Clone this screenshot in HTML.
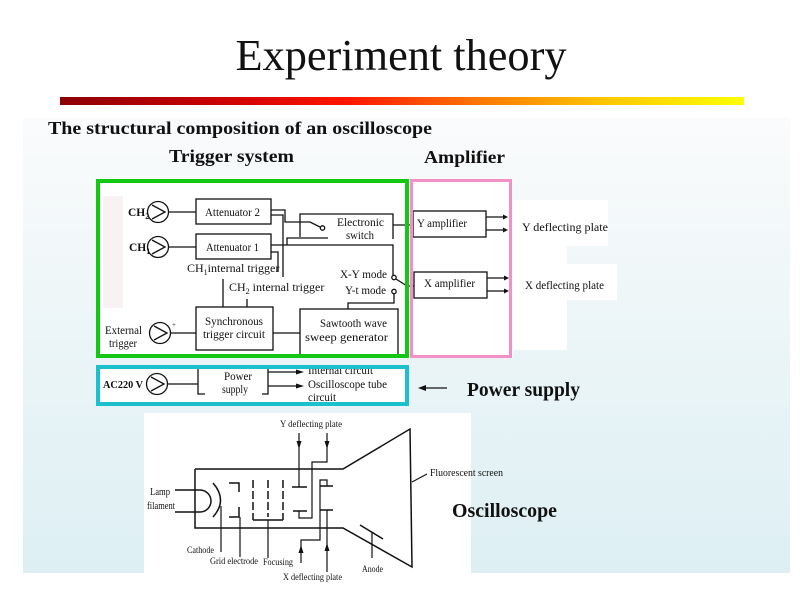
<!DOCTYPE html>
<html><head><meta charset="utf-8"><style>
html,body{margin:0;padding:0;background:#fff;}
svg{display:block;}
text{font-family:"Liberation Serif","Times New Roman",serif;fill:#111;}
.b{font-weight:bold;}
</style></head><body>
<svg width="800" height="600" viewBox="0 0 800 600" xmlns="http://www.w3.org/2000/svg">
<defs>
<linearGradient id="bar" x1="0" y1="0" x2="1" y2="0">
<stop offset="0" stop-color="#8c0000"/>
<stop offset="0.22" stop-color="#c80000"/>
<stop offset="0.42" stop-color="#ff1500"/>
<stop offset="0.62" stop-color="#ff7a00"/>
<stop offset="0.8" stop-color="#ffc800"/>
<stop offset="1" stop-color="#ffff00"/>
</linearGradient>
<linearGradient id="bg" x1="0" y1="0" x2="0" y2="1">
<stop offset="0" stop-color="#fafbfc"/>
<stop offset="0.5" stop-color="#ebf5f7"/>
<stop offset="1" stop-color="#ddeff3"/>
</linearGradient>
</defs>
<rect x="0" y="0" width="800" height="600" fill="#fff"/>
<rect x="23" y="118" width="767" height="455" fill="url(#bg)"/>

<!-- title -->
<text x="401" y="70" font-size="44" text-anchor="middle" textLength="331" lengthAdjust="spacingAndGlyphs">Experiment theory</text>
<rect x="60" y="97" width="684" height="8" fill="url(#bar)"/>

<text class="b" x="48" y="134" font-size="18" textLength="384" lengthAdjust="spacingAndGlyphs">The structural composition of an oscilloscope</text>
<text class="b" x="169" y="162" font-size="18" textLength="125" lengthAdjust="spacingAndGlyphs">Trigger system</text>
<text class="b" x="424" y="163" font-size="18" textLength="81" lengthAdjust="spacingAndGlyphs">Amplifier</text>

<!-- white patches -->
<rect x="96" y="179" width="417" height="179" fill="#fff"/>
<rect x="513" y="203" width="54" height="147" fill="#fff"/>
<rect x="513" y="200" width="95" height="46" fill="#fff"/>
<rect x="513" y="264" width="104" height="36" fill="#fff"/>
<rect x="96" y="365" width="313" height="41" fill="#fff"/>
<rect x="144" y="413" width="327" height="187" fill="#fff"/>
<rect x="103" y="196" width="20" height="112" fill="#f5ecec" opacity="0.7"/>

<g stroke="#111" stroke-width="1.3" fill="none">
<!-- input circles -->
<circle cx="158" cy="212" r="10.5"/><polyline points="152,205 165,212 152,219"/>
<circle cx="158" cy="247" r="10.5"/><polyline points="152,240 165,247 152,254"/>
<circle cx="160" cy="333" r="10.5"/><polyline points="154,326 167,333 154,340"/>
<line x1="169" y1="212" x2="196" y2="212"/>
<line x1="169" y1="247" x2="196" y2="247"/>
<line x1="171" y1="333" x2="196" y2="333"/>
<!-- attenuators -->
<rect x="196" y="199" width="75" height="25"/>
<rect x="196" y="234" width="75" height="25"/>
<!-- att2 outputs -->
<polyline points="271,210 285,210 285,222 310,222 320,227"/>
<polyline points="271,215 283,215 283,277"/>
<polyline points="271,252 278,252 278,272"/>
<line x1="223" y1="279" x2="223" y2="307"/>
<line x1="247" y1="299" x2="247" y2="307"/>
<!-- att1 outputs -->
<polyline points="271,245 393,245 393,275"/>
<polyline points="287,245 287,238 328,238"/>
<!-- electronic switch -->
<polyline points="300,237 300,214 393,214 393,239"/>
<circle cx="322.5" cy="228" r="2.2"/>
<line x1="393" y1="225" x2="413" y2="225"/>
<!-- mode switch -->
<circle cx="394" cy="277.5" r="2.2"/>
<circle cx="394" cy="291.5" r="2.2"/>
<polyline points="396,279 407,286 414,286"/>
<polyline points="348,309 348,303 394,303 394,294"/>
<!-- sync / sawtooth -->
<rect x="196" y="307" width="77" height="43"/>
<rect x="300" y="309" width="98" height="46"/>
<line x1="273" y1="333" x2="300" y2="333"/>
<!-- amplifiers -->
<rect x="413" y="211" width="73" height="26"/>
<rect x="414" y="272" width="73" height="26"/>
<line x1="486" y1="217" x2="503" y2="217"/>
<line x1="486" y1="230" x2="503" y2="230"/>
<line x1="487" y1="278" x2="504" y2="278"/>
<line x1="487" y1="291" x2="504" y2="291"/>
<!-- power row -->
<circle cx="157" cy="384" r="10.5"/><polyline points="151,377 164,384 151,391"/>
<line x1="168" y1="384" x2="198" y2="384"/>
<polyline points="205,368 198,368 198,394 205,394"/>
<polyline points="262,368 268,368 268,394 262,394"/>
<line x1="268" y1="372" x2="297" y2="372"/>
<line x1="268" y1="386" x2="297" y2="386"/>
<line x1="424" y1="388" x2="447" y2="388"/>
</g>
<g fill="#111">
<polygon points="503,214.5 508,217 503,219.5"/>
<polygon points="503,227.5 508,230 503,232.5"/>
<polygon points="504,275.5 509,278 504,280.5"/>
<polygon points="504,288.5 509,291 504,293.5"/>
<polygon points="296,369.5 304,372 296,374.5"/>
<polygon points="296,383.5 304,386 296,388.5"/>
<polygon points="426,385 418,388 426,391"/>
</g>
<text x="172" y="327" font-size="7">+</text>

<!-- block text -->
<text class="b" x="128" y="216" font-size="11.5">CH<tspan font-size="8" dy="3">2</tspan></text>
<text class="b" x="129" y="251" font-size="11.5">CH<tspan font-size="8" dy="3">1</tspan></text>
<text x="205" y="216" font-size="12" textLength="55" lengthAdjust="spacingAndGlyphs">Attenuator 2</text>
<text x="206" y="251" font-size="12" textLength="53" lengthAdjust="spacingAndGlyphs">Attenuator 1</text>
<text x="337" y="226" font-size="12" textLength="47" lengthAdjust="spacingAndGlyphs">Electronic</text>
<text x="346" y="239" font-size="12" textLength="28" lengthAdjust="spacingAndGlyphs">switch</text>
<text x="187" y="272" font-size="12">CH<tspan font-size="8" dy="3">1</tspan><tspan dy="-3">internal trigger</tspan></text>
<text x="229" y="291" font-size="12">CH<tspan font-size="8" dy="3">2</tspan><tspan dy="-3"> internal trigger</tspan></text>
<text x="340" y="278" font-size="12" textLength="47" lengthAdjust="spacingAndGlyphs">X-Y mode</text>
<text x="345" y="294" font-size="12" textLength="41" lengthAdjust="spacingAndGlyphs">Y-t mode</text>
<text x="205" y="325" font-size="12" textLength="58" lengthAdjust="spacingAndGlyphs">Synchronous</text>
<text x="203" y="338" font-size="12" textLength="62" lengthAdjust="spacingAndGlyphs">trigger circuit</text>
<text x="320" y="327" font-size="12" textLength="67" lengthAdjust="spacingAndGlyphs">Sawtooth wave</text>
<text x="305" y="341" font-size="12" textLength="83" lengthAdjust="spacingAndGlyphs">sweep generator</text>
<text x="105" y="334" font-size="12" textLength="37" lengthAdjust="spacingAndGlyphs">External</text>
<text x="109" y="347" font-size="12" textLength="28" lengthAdjust="spacingAndGlyphs">trigger</text>
<text x="417" y="227" font-size="12" textLength="50" lengthAdjust="spacingAndGlyphs">Y amplifier</text>
<text x="424" y="287" font-size="12" textLength="51" lengthAdjust="spacingAndGlyphs">X amplifier</text>
<text x="522" y="231" font-size="11.5" textLength="86" lengthAdjust="spacingAndGlyphs">Y deflecting plate</text>
<text x="525" y="289" font-size="11.5" textLength="79" lengthAdjust="spacingAndGlyphs">X deflecting plate</text>

<!-- power text -->
<text class="b" x="103" y="388" font-size="11" textLength="40" lengthAdjust="spacingAndGlyphs">AC220 V</text>
<text x="224" y="380" font-size="11.5" textLength="28" lengthAdjust="spacingAndGlyphs">Power</text>
<text x="222" y="393" font-size="11.5" textLength="26" lengthAdjust="spacingAndGlyphs">supply</text>
<text x="308" y="374" font-size="11.5" textLength="65" lengthAdjust="spacingAndGlyphs">Internal circuit</text>
<text x="308" y="388" font-size="11.5" textLength="79" lengthAdjust="spacingAndGlyphs">Oscilloscope tube</text>
<text x="308" y="401" font-size="11.5" textLength="28" lengthAdjust="spacingAndGlyphs">circuit</text>
<text class="b" x="467" y="396" font-size="20" textLength="113" lengthAdjust="spacingAndGlyphs">Power supply</text>

<!-- colored boxes -->
<rect x="98" y="181" width="309" height="175" fill="none" stroke="#12c812" stroke-width="4"/>
<rect x="411.5" y="180.5" width="99" height="176" fill="none" stroke="#f590c6" stroke-width="3"/>
<rect x="98" y="367" width="309" height="37" fill="none" stroke="#1cbfcc" stroke-width="4"/>

<!-- oscilloscope tube -->
<g stroke="#111" stroke-width="1.5" fill="none">
<polyline points="195,469 343,469 410,429 412,567 343,528 195,528 195,469"/>
<line x1="412" y1="482" x2="427" y2="474" stroke-width="1"/>
<line x1="175" y1="490" x2="200" y2="490"/>
<line x1="175" y1="512" x2="200" y2="512"/>
<path d="M200,490 A11,11 0 0 1 200,512"/>
<path d="M213,483 Q228,500 213,517"/>
<line x1="221" y1="506" x2="221" y2="552" stroke-width="1.2"/>
<polyline points="229,483 239,483 239,492"/>
<polyline points="229,517 239,517 239,507"/>
<line x1="240" y1="517" x2="240" y2="557" stroke-width="1.2"/>
<line x1="253" y1="480" x2="253" y2="520" stroke-dasharray="8,3"/>
<line x1="268" y1="480" x2="268" y2="517" stroke-dasharray="8,3"/>
<line x1="283" y1="480" x2="283" y2="520" stroke-dasharray="8,3"/>
<line x1="253" y1="520" x2="283" y2="520"/>
<line x1="268" y1="520" x2="268" y2="558" stroke-width="1.2"/>
<line x1="292" y1="487" x2="307" y2="487"/>
<line x1="299" y1="433" x2="299" y2="487" stroke-width="1.2"/>
<line x1="293" y1="511" x2="307" y2="511"/>
<polyline points="299,511 299,518 312,518 312,462 327,462 327,433" stroke-width="1.2"/>
<line x1="320" y1="486" x2="333" y2="486"/>
<polyline points="327,486 327,480 320,480 320,540 301,540 301,563" stroke-width="1.2"/>
<line x1="320" y1="510" x2="333" y2="510"/>
<line x1="327" y1="510" x2="327" y2="572" stroke-width="1.2"/>
<line x1="360" y1="525" x2="383" y2="539"/>
<line x1="372" y1="532" x2="372" y2="558" stroke-width="1.2"/>
</g>
<g fill="#111">
<polygon points="296.5,441 301.5,441 299,449"/>
<polygon points="324.5,441 329.5,441 327,449"/>
<polygon points="298.5,553 303.5,553 301,545"/>
<polygon points="324.5,551 329.5,551 327,543"/>
</g>
<text x="280" y="427" font-size="9.5" textLength="62" lengthAdjust="spacingAndGlyphs">Y deflecting plate</text>
<text x="430" y="476" font-size="10" textLength="73" lengthAdjust="spacingAndGlyphs">Fluorescent screen</text>
<text x="150" y="495" font-size="10" textLength="20" lengthAdjust="spacingAndGlyphs">Lamp</text>
<text x="147" y="509" font-size="10" textLength="28" lengthAdjust="spacingAndGlyphs">filament</text>
<text x="187" y="553" font-size="9.5" textLength="27" lengthAdjust="spacingAndGlyphs">Cathode</text>
<text x="210" y="564" font-size="9.5" textLength="48" lengthAdjust="spacingAndGlyphs">Grid electrode</text>
<text x="263" y="565" font-size="9.5" textLength="30" lengthAdjust="spacingAndGlyphs">Focusing</text>
<text x="283" y="580" font-size="9.5" textLength="59" lengthAdjust="spacingAndGlyphs">X deflecting plate</text>
<text x="362" y="572" font-size="9.5" textLength="21" lengthAdjust="spacingAndGlyphs">Anode</text>
<text class="b" x="452" y="517" font-size="20" textLength="105" lengthAdjust="spacingAndGlyphs">Oscilloscope</text>
</svg>
</body></html>
